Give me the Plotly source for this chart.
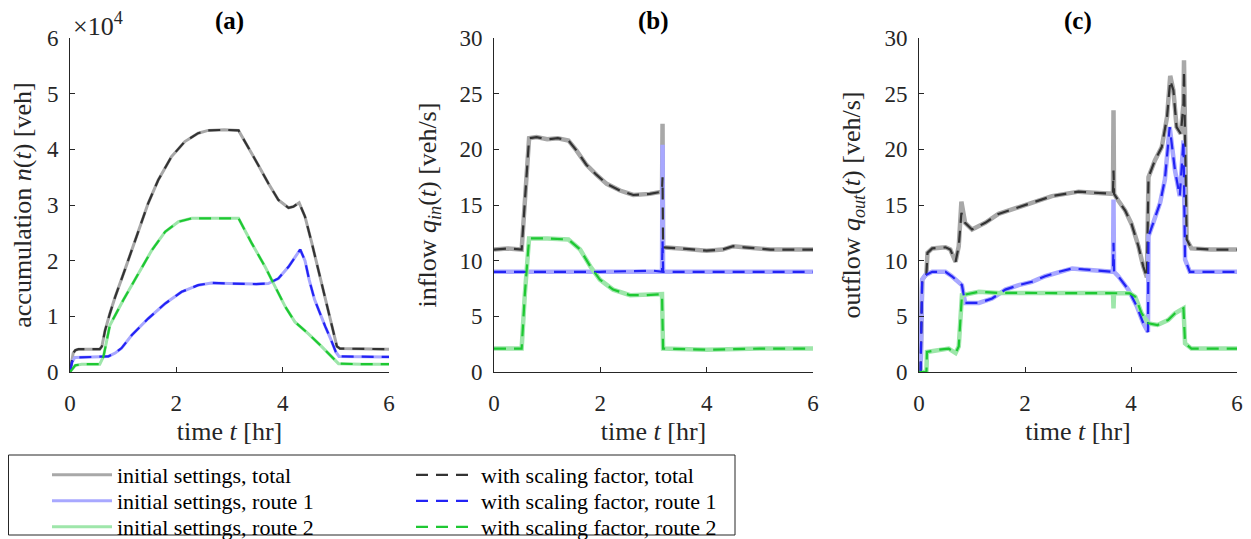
import plotly.graph_objects as go

# ---------------- data ----------------
# (a) accumulation n(t) [veh]
a_tot_t = [0, 0.03, 0.06, 0.1, 0.16, 0.3, 0.56, 0.6, 0.66, 0.75, 0.85, 1.03, 1.25, 1.47, 1.66, 1.91, 2.16, 2.41, 2.6, 2.9, 3.17,
           3.35, 3.54, 3.73, 3.92, 4.11, 4.2, 4.31, 4.42, 4.55, 4.67, 4.8, 4.92, 5.02, 5.08, 5.5, 6.0]
a_tot_v = [0, 2000, 3400, 3900, 4100, 4100, 4100, 4600, 7500, 10500, 13500, 18300, 24300, 30300, 34500, 38700, 41400, 42900, 43400, 43500, 43400,
           40500, 37200, 33900, 30900, 29500, 29700, 30400, 27900, 23100, 18300, 12900, 8100, 4600, 4200, 4100, 4100]
a_r1_t = [0, 0.04, 0.09, 0.3, 0.72, 0.85, 0.97, 1.16, 1.47, 1.79, 2.1, 2.41, 2.66, 3.0, 3.5, 3.73, 3.92, 4.11, 4.23, 4.33,
          4.42, 4.5, 4.6, 4.7, 4.8, 4.9, 5.0, 5.06, 5.5, 6.0]
a_r1_v = [0, 1800, 2600, 2700, 2800, 3400, 4300, 6600, 9600, 12300, 14400, 15600, 16000, 15900, 15800, 15900, 16800, 18900, 20700, 22000,
          20000, 16500, 13000, 10500, 8200, 6000, 3600, 2800, 2700, 2700]
a_r2_t = [0, 0.05, 0.1, 0.22, 0.56, 0.63, 0.69, 0.75, 1.0, 1.25, 1.54, 1.79, 2.04, 2.29, 2.6, 3.17, 3.42, 3.67, 3.86, 4.05, 4.23,
          4.48, 4.73, 4.92, 5.05, 5.5, 6.0]
a_r2_v = [0, 700, 1200, 1400, 1400, 2800, 5700, 8400, 12900, 17100, 21900, 25200, 27000, 27600, 27600, 27600, 23100, 18900, 15300, 11700, 9000,
          6900, 4600, 2800, 1500, 1400, 1400]

# (b) inflow q_in(t) [veh/s]
b_tot_t = [0, 0.25, 0.52, 0.58, 0.66, 0.8, 1.0, 1.2, 1.4, 1.55, 1.74, 1.93, 2.12, 2.37, 2.62, 2.93, 3.16, 3.17, 3.18,
           3.5, 4.0, 4.3, 4.5, 4.7, 4.9, 5.2, 5.6, 6.0]
b_tot_init = [11.0, 11.1, 11.0, 15.5, 21.0, 21.1, 20.9, 21.0, 20.8, 19.9, 18.6, 17.7, 16.9, 16.3, 15.9, 16.0, 16.2, 22.3, 11.2,
              11.1, 10.9, 11.0, 11.3, 11.2, 11.1, 11.0, 11.0, 11.0]
b_tot_scal = [11.0, 11.1, 11.0, 15.5, 21.0, 21.1, 20.9, 21.0, 20.8, 19.9, 18.6, 17.7, 16.9, 16.3, 15.9, 16.0, 16.2, 17.5, 11.2,
              11.1, 10.9, 11.0, 11.3, 11.2, 11.1, 11.0, 11.0, 11.0]
b_r1_t = [0, 1.0, 2.0, 3.0, 3.16, 3.17, 3.18, 4.0, 5.0, 6.0]
b_r1_init = [9.0, 9.0, 9.0, 9.1, 9.0, 20.4, 9.0, 9.0, 9.0, 9.0]
b_r1_scal = [9.0, 9.0, 9.0, 9.1, 9.0, 11.8, 9.0, 9.0, 9.0, 9.0]
b_r2_t = [0, 0.52, 0.58, 0.66, 1.0, 1.4, 1.62, 1.81, 1.99, 2.24, 2.56, 2.87, 3.16, 3.18, 4.0, 5.0, 6.0]
b_r2_v = [2.1, 2.1, 7.0, 12.0, 12.0, 11.9, 11.0, 9.5, 8.3, 7.4, 6.9, 6.9, 7.0, 2.1, 2.0, 2.1, 2.1]

# (c) outflow q_out(t) [veh/s]
c_tot_t = [0, 0.03, 0.06, 0.14, 0.16, 0.25, 0.5, 0.59, 0.69, 0.75, 0.8, 0.87, 1.0, 1.25, 1.5, 1.75, 2.0, 2.26, 2.51, 2.76, 3.01,
           3.3, 3.66, 3.67, 3.68, 3.76, 3.89, 4.01, 4.14, 4.23, 4.3, 4.33, 4.45, 4.58, 4.68, 4.74, 4.8, 4.86, 4.94, 4.99, 5.0,
           5.05, 5.14, 5.5, 6.0]
c_tot_init = [0, 0, 8.3, 8.8, 10.7, 11.1, 11.2, 11.0, 9.9, 11.3, 15.3, 13.4, 12.8, 13.4, 14.2, 14.6, 15.0, 15.4, 15.8, 16.0, 16.2,
              16.1, 16.0, 23.5, 16.0, 15.4, 14.5, 13.3, 11.3, 9.5, 8.5, 17.5, 19.0, 20.2, 22.9, 26.6, 25.3, 22.0, 21.4, 24.1, 28.0,
              11.9, 11.1, 11.0, 11.0]
c_tot_scal = [0, 0, 8.3, 8.8, 10.7, 11.1, 11.2, 11.0, 9.9, 11.3, 14.3, 13.4, 12.8, 13.4, 14.2, 14.6, 15.0, 15.4, 15.8, 16.0, 16.2,
              16.1, 16.0, 18.1, 16.0, 15.4, 14.5, 13.3, 11.3, 9.5, 8.5, 17.5, 19.0, 20.2, 22.9, 26.2, 25.3, 22.0, 21.4, 24.1, 27.1,
              11.9, 11.1, 11.0, 11.0]
c_r1_t = [0, 0.03, 0.06, 0.12, 0.25, 0.5, 0.62, 0.75, 0.81, 0.87, 1.13, 1.38, 1.63, 1.88, 2.13, 2.38, 2.64, 2.89, 3.1, 3.4,
          3.66, 3.67, 3.68, 3.76, 3.95, 4.11, 4.23, 4.32, 4.33, 4.42, 4.55, 4.64, 4.73, 4.83, 4.92, 4.99, 5.02, 5.11, 5.5, 6.0]
c_r1_init = [0, 0, 8.3, 8.7, 9.0, 9.0, 8.6, 8.1, 7.8, 6.2, 6.2, 6.6, 7.4, 7.8, 8.1, 8.6, 9.0, 9.3, 9.2, 9.1,
             9.0, 15.5, 9.0, 8.6, 7.4, 5.9, 4.4, 3.6, 12.2, 13.4, 15.2, 17.3, 22.0, 18.1, 15.8, 20.8, 10.1, 9.0, 9.0, 9.0]
c_r1_scal = [0, 0, 8.3, 8.7, 9.0, 9.0, 8.6, 8.1, 7.8, 6.2, 6.2, 6.6, 7.4, 7.8, 8.1, 8.6, 9.0, 9.3, 9.2, 9.1,
             9.0, 11.6, 9.0, 8.6, 7.4, 5.9, 4.4, 3.6, 12.2, 13.4, 15.2, 17.3, 22.0, 18.1, 15.8, 20.8, 10.1, 9.0, 9.0, 9.0]
c_r2_t = [0, 0.14, 0.15, 0.37, 0.56, 0.69, 0.75, 0.81, 1.13, 1.5, 2.0, 2.5, 3.0, 3.5, 3.66, 3.67, 3.68, 3.98, 4.08, 4.2,
          4.33, 4.5, 4.7, 4.83, 4.99, 5.02, 5.14, 5.5, 6.0]
c_r2_init = [0, 0, 1.8, 2.0, 2.1, 1.7, 2.3, 6.9, 7.2, 7.1, 7.1, 7.1, 7.1, 7.1, 7.1, 5.7, 7.1, 7.07, 6.77, 5.27,
             4.37, 4.22, 4.67, 5.27, 5.72, 2.57, 2.1, 2.1, 2.1]
c_r2_scal = [0, 0, 1.8, 2.0, 2.1, 1.7, 2.3, 6.9, 7.2, 7.1, 7.1, 7.1, 7.1, 7.1, 7.1, 7.1, 7.1, 7.07, 6.77, 5.27,
             4.37, 4.22, 4.67, 5.27, 5.72, 2.57, 2.1, 2.1, 2.1]

panel_titles = ["(a)", "(b)", "(c)"]
y_titles = ["accumulation <i>n</i>(<i>t</i>) [veh]",
            "inflow <i>q</i><sub><i>in</i></sub>(<i>t</i>) [veh/s]",
            "outflow <i>q</i><sub><i>out</i></sub>(<i>t</i>) [veh/s]"]
x_title = "time <i>t</i> [hr]"
a_tickvals = [0, 10000, 20000, 30000, 40000, 50000, 60000]
a_ticktext = ["0", "1", "2", "3", "4", "5", "6"]
x_ticks = [0, 2, 4, 6]
q_ticks = [0, 5, 10, 15, 20, 25, 30]

names_init = ["initial settings, total", "initial settings, route 1", "initial settings, route 2"]
names_scal = ["with scaling factor, total", "with scaling factor, route 1", "with scaling factor, route 2"]

# ---------------- styling ----------------
FONT = "Liberation Serif, Times New Roman, DejaVu Serif, serif"
AX = "#262626"
col_init = ["#a8a8a8", "#a8a8ff", "#9ee6aa"]
col_scal = ["#333333", "#2323f5", "#1ec832"]

panels = [
    [(a_tot_t, a_tot_v, a_tot_v), (a_r1_t, a_r1_v, a_r1_v), (a_r2_t, a_r2_v, a_r2_v)],
    [(b_tot_t, b_tot_init, b_tot_scal), (b_r1_t, b_r1_init, b_r1_scal), (b_r2_t, b_r2_v, b_r2_v)],
    [(c_tot_t, c_tot_init, c_tot_scal), (c_r1_t, c_r1_init, c_r1_scal), (c_r2_t, c_r2_init, c_r2_scal)],
]

# one legend per row, two entries (initial / scaling) in each row
row_legends = ["legend", "legend2", "legend3"]

fig = go.Figure()
axis_suffix = ["", "2", "3"]
init_width = [3, 4.5, 4.5]

for p, series in enumerate(panels):
    xa = "x" + axis_suffix[p]
    ya = "y" + axis_suffix[p]
    for s, (t, vi, vs) in enumerate(series):
        fig.add_trace(go.Scatter(x=t, y=vi, mode="lines", xaxis=xa, yaxis=ya,
                                 line=dict(color=col_init[s], width=init_width[p]),
                                 name=names_init[s], legend=row_legends[s], legendrank=1,
                                 showlegend=(p == 0)))
    for s, (t, vi, vs) in enumerate(series):
        fig.add_trace(go.Scatter(x=t, y=vs, mode="lines", xaxis=xa, yaxis=ya,
                                 line=dict(color=col_scal[s], width=2.2, dash="12px,8px"),
                                 name=names_scal[s], legend=row_legends[s], legendrank=2,
                                 showlegend=(p == 0)))

# the page body adds an 8 px margin; the figure is sized/placed to compensate
OFF = 8
W, H = 1251 - OFF, 539 - OFF
L, R, T = 70 - OFF, 14, 38 - OFF
B = H - (372 - OFF)
pw = W - L - R
ph = H - T - B

def px_x(px):  # px: page pixel in the reference
    return (px - OFF - L) / pw

def px_y(py):
    return (H - B - (py - OFF)) / ph

domains = [(70, 389), (494, 813), (919, 1237)]

common_axis = dict(showline=True, linecolor=AX, linewidth=1, ticks="inside", ticklen=5,
                   tickcolor=AX, showgrid=False, zeroline=False, mirror=False, automargin=False,
                   tickfont=dict(family=FONT, size=23, color=AX))

layout = dict(width=W, height=H, margin=dict(l=L, r=R, t=T, b=B, autoexpand=False),
              plot_bgcolor="white", paper_bgcolor="white",
              font=dict(family=FONT, color=AX))

y_standoffs = [13, 15, 16]
for p in range(3):
    d0, d1 = domains[p]
    xkey = "xaxis" + axis_suffix[p]
    ykey = "yaxis" + axis_suffix[p]
    layout[xkey] = dict(common_axis, domain=[px_x(d0), px_x(d1)], range=[0, 6], tickvals=x_ticks,
                        anchor="y" + axis_suffix[p], ticklabelstandoff=10,
                        title=dict(text=x_title, font=dict(family=FONT, size=26, color=AX), standoff=7))
    if p == 0:
        yextra = dict(range=[0, 60000], tickvals=a_tickvals, ticktext=a_ticktext)
    else:
        yextra = dict(range=[0, 30], tickvals=q_ticks)
    layout[ykey] = dict(common_axis, domain=[0, 1], anchor="x" + axis_suffix[p], ticklabelstandoff=6,
                        title=dict(text=y_titles[p], font=dict(family=FONT, size=26, color=AX),
                                   standoff=y_standoffs[p]),
                        **yextra)

annotations = []
for p in range(3):
    d0, d1 = domains[p]
    annotations.append(dict(text="<b>" + panel_titles[p] + "</b>", xref="paper", yref="paper",
                            x=px_x((d0 + d1) / 2), y=px_y(21), xanchor="center", yanchor="middle",
                            showarrow=False, font=dict(family=FONT, size=25, color="black")))
annotations.append(dict(text="×10<sup>4</sup>", xref="paper", yref="paper", x=px_x(71), y=1,
                        xanchor="left", yanchor="bottom", yshift=-5, showarrow=False,
                        font=dict(family=FONT, size=26, color=AX)))
layout["annotations"] = annotations

layout["shapes"] = [dict(type="rect", xref="paper", yref="paper",
                         x0=px_x(8.5), x1=px_x(735), y0=px_y(535), y1=px_y(455),
                         line=dict(color=AX, width=1), fillcolor="rgba(0,0,0,0)", layer="above")]

leg_common = dict(orientation="h", yanchor="middle", xanchor="left", bgcolor="rgba(0,0,0,0)",
                  borderwidth=0, font=dict(family=FONT, size=22, color="black"),
                  itemwidth=60, entrywidth=289, entrywidthmode="pixels", traceorder="normal")
row_centers = [475, 501, 527]
for k, lg in enumerate(row_legends):
    layout[lg] = dict(leg_common, x=px_x(47), y=px_y(row_centers[k]))
layout["showlegend"] = True

fig.update_layout(**layout)
fig.write_html("out.html")
